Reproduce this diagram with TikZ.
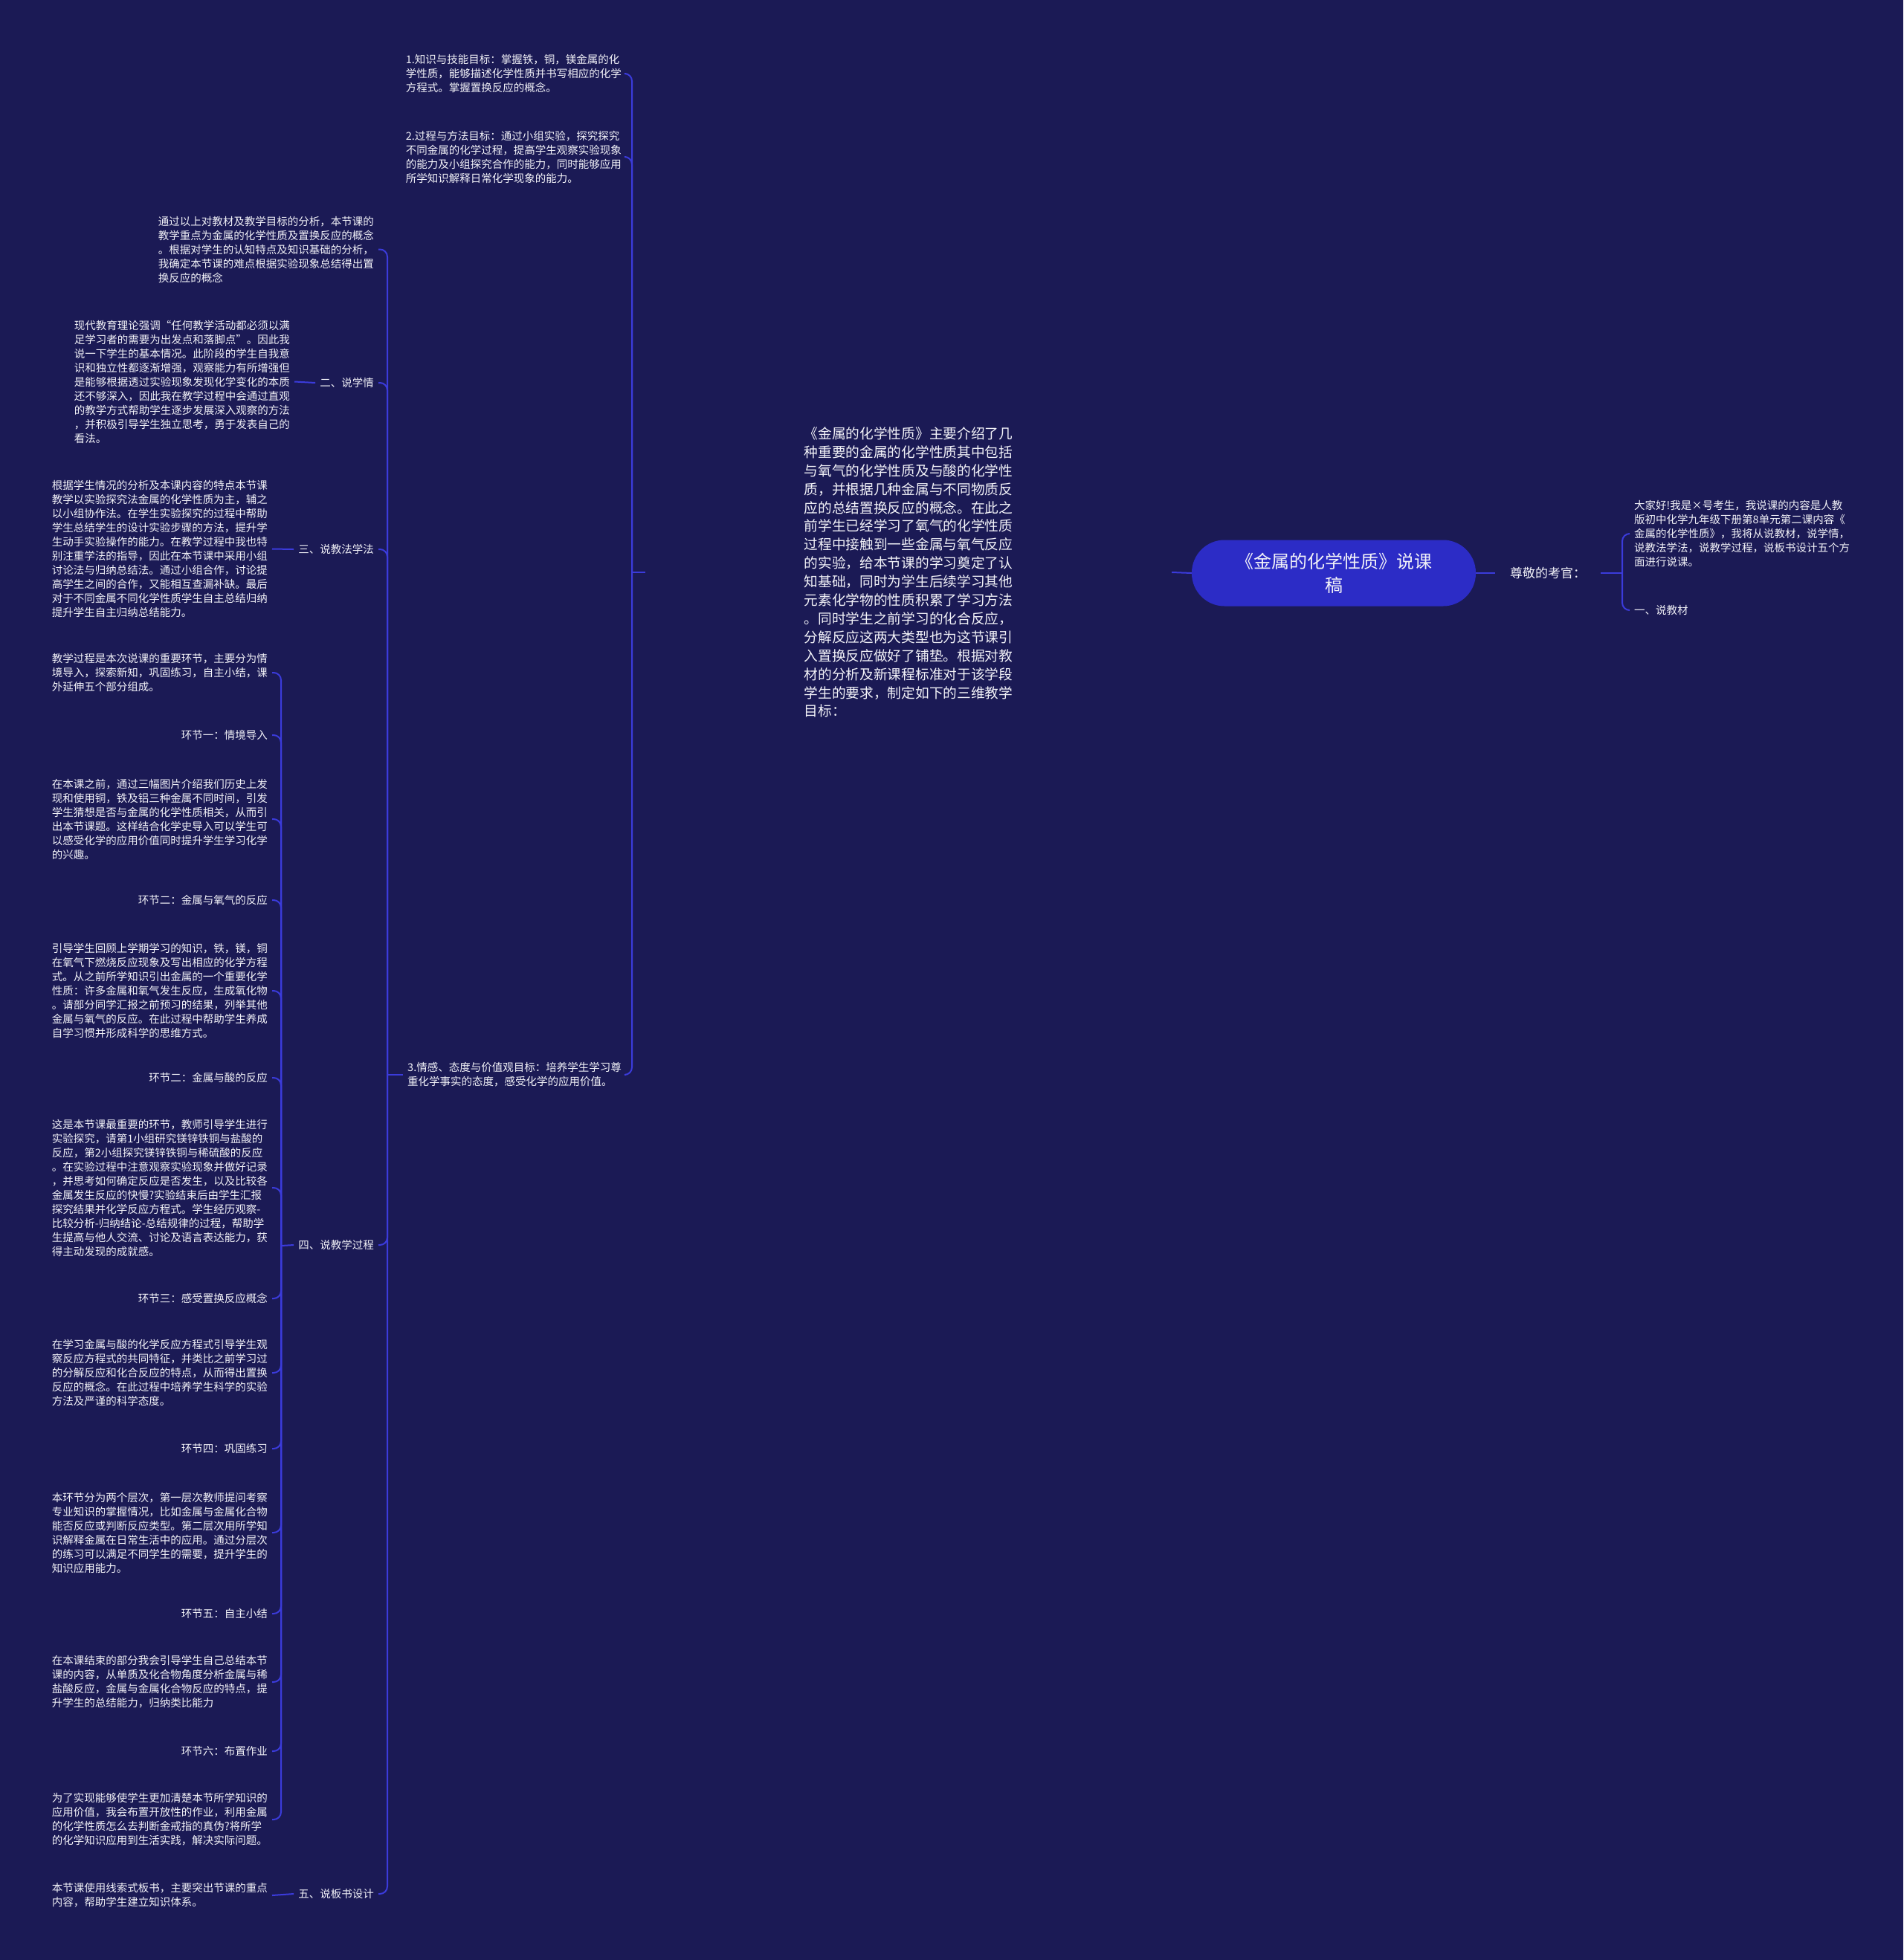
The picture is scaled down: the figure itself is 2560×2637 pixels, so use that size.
\documentclass[tikz,border=0pt]{standalone}
\usepackage{fontspec}
\setmainfont{Noto Sans CJK SC}
\usepackage{tikz}
\usetikzlibrary{positioning,calc}
\definecolor{bgnavy}{HTML}{1B1A55}
\definecolor{linkblue}{HTML}{3B3BDB}
\definecolor{rootblue}{HTML}{2C2CC6}
\definecolor{inkwhite}{HTML}{F2F2F8}

\begin{document}
\begin{tikzpicture}[
  x=1pt,y=-1pt,
  font=\fontsize{14.5}{19}\selectfont,
  every node/.style={text=inkwhite},
  root/.style={fill=rootblue,rounded corners=44pt,minimum width=382pt,minimum height=89pt,align=center,inner sep=0pt,font=\fontsize{24}{32}\selectfont},
  judge/.style={inner xsep=20pt,inner ysep=4pt,font=\fontsize{17}{22}\selectfont},
  intro/.style={align=left,minimum width=708pt,inner sep=0pt,font=\fontsize{18.7}{24.9}\selectfont},
  leaf/.style={align=left,inner xsep=6pt,inner ysep=2pt},
  link/.style={draw=linkblue,line width=2pt,rounded corners=10pt}
]
\fill[bgnavy] (0,0) rectangle (2560,2637);
\useasboundingbox (0,0) rectangle (2560,2637);

% centre and the greeting on the right
\node[root] (root) at (1794,771) {《金属的化学性质》说课\\稿};
\node[judge,anchor=west] (judges) at (2011,771) {尊敬的考官：};
\coordinate (jjudges) at (2182,771);
\node[leaf,anchor=west] (hello) at (2192,718) {大家好!我是×号考生，我说课的内容是人教\\版初中化学九年级下册第8单元第二课内容《\\金属的化学性质》，我将从说教材，说学情，\\说教法学法，说教学过程，说板书设计五个方\\面进行说课。};
\node[leaf,anchor=west] (part1) at (2192,821) {一、说教材};

\draw[link] (root.east) -- (judges.west);
\draw[link] (judges.east) -- (jjudges);
\foreach \c in {hello,part1}{
  \draw[link] (jjudges) |- (\c.west);
}

% the textbook analysis and the three goals
\node[intro] (intro) at (1222,770) {《金属的化学性质》主要介绍了几\\种重要的金属的化学性质其中包括\\与氧气的化学性质及与酸的化学性\\质，并根据几种金属与不同物质反\\应的总结置换反应的概念。在此之\\前学生已经学习了氧气的化学性质\\过程中接触到一些金属与氧气反应\\的实验，给本节课的学习奠定了认\\知基础，同时为学生后续学习其他\\元素化学物的性质积累了学习方法\\。同时学生之前学习的化合反应，\\分解反应这两大类型也为这节课引\\入置换反应做好了铺垫。根据对教\\材的分析及新课程标准对于该学段\\学生的要求，制定如下的三维教学\\目标：};
\coordinate (jintro) at (850,770);
\node[leaf,anchor=east] (goal1) at (842,99) {1.知识与技能目标：掌握铁，铜，镁金属的化\\学性质，能够描述化学性质并书写相应的化学\\方程式。掌握置换反应的概念。};
\node[leaf,anchor=east] (goal2) at (842,211) {2.过程与方法目标：通过小组实验，探究探究\\不同金属的化学过程，提高学生观察实验现象\\的能力及小组探究合作的能力，同时能够应用\\所学知识解释日常化学现象的能力。};
\node[leaf,anchor=east] (goal3) at (842,1446) {3.情感、态度与价值观目标：培养学生学习尊\\重化学事实的态度，感受化学的应用价值。};

\draw[link] (root.west) -- (intro.east);
\draw[link] (intro.west) -- (jintro);
\foreach \c in {goal1,goal2,goal3}{
  \draw[link] (jintro) |- (\c.east);
}

% the remaining parts of the talk
\coordinate (jgoal3) at (521,1446);
\node[leaf,anchor=east] (keypts) at (509,335.5) {通过以上对教材及教学目标的分析，本节课的\\教学重点为金属的化学性质及置换反应的概念\\。根据对学生的认知特点及知识基础的分析，\\我确定本节课的难点根据实验现象总结得出置\\换反应的概念};
\node[leaf,anchor=east] (part2) at (509,515) {二、说学情};
\node[leaf,anchor=east] (part3) at (509,739) {三、说教法学法};
\node[leaf,anchor=east] (part4) at (509,1675) {四、说教学过程};
\node[leaf,anchor=east] (part5) at (509,2548) {五、说板书设计};

\draw[link] (goal3.west) -- (jgoal3);
\foreach \c in {keypts,part2,part3,part4,part5}{
  \draw[link] (jgoal3) |- (\c.east);
}

\node[leaf,anchor=east] (learners) at (396,513.5) {现代教育理论强调“任何教学活动都必须以满\\足学习者的需要为出发点和落脚点”。因此我\\说一下学生的基本情况。此阶段的学生自我意\\识和独立性都逐渐增强，观察能力有所增强但\\是能够根据透过实验现象发现化学变化的本质\\还不够深入，因此我在教学过程中会通过直观\\的教学方式帮助学生逐步发展深入观察的方法\\，并积极引导学生独立思考，勇于发表自己的\\看法。};
\node[leaf,anchor=east] (methods) at (366,738.5) {根据学生情况的分析及本课内容的特点本节课\\教学以实验探究法金属的化学性质为主，辅之\\以小组协作法。在学生实验探究的过程中帮助\\学生总结学生的设计实验步骤的方法，提升学\\生动手实验操作的能力。在教学过程中我也特\\别注重学法的指导，因此在本节课中采用小组\\讨论法与归纳总结法。通过小组合作，讨论提\\高学生之间的合作，又能相互查漏补缺。最后\\对于不同金属不同化学性质学生自主总结归纳\\提升学生自主归纳总结能力。};
\node[leaf,anchor=east] (board) at (366,2550) {本节课使用线索式板书，主要突出节课的重点\\内容，帮助学生建立知识体系。};

\draw[link] (part2.west) -- (learners.east);
\draw[link] (part3.west) -- (methods.east);
\draw[link] (part5.west) -- (board.east);

% the teaching process, step by step
\coordinate (jpart4) at (378,1676);
\node[leaf,anchor=east] (overview) at (366,905) {教学过程是本次说课的重要环节，主要分为情\\境导入，探索新知，巩固练习，自主小结，课\\外延伸五个部分组成。};
\node[leaf,anchor=east] (stepone) at (366,989) {环节一：情境导入};
\node[leaf,anchor=east] (onetxt) at (366,1102) {在本课之前，通过三幅图片介绍我们历史上发\\现和使用铜，铁及铝三种金属不同时间，引发\\学生猜想是否与金属的化学性质相关，从而引\\出本节课题。这样结合化学史导入可以学生可\\以感受化学的应用价值同时提升学生学习化学\\的兴趣。};
\node[leaf,anchor=east] (steptwo) at (366,1211) {环节二：金属与氧气的反应};
\node[leaf,anchor=east] (twotxt) at (366,1333) {引导学生回顾上学期学习的知识，铁，镁，铜\\在氧气下燃烧反应现象及写出相应的化学方程\\式。从之前所学知识引出金属的一个重要化学\\性质：许多金属和氧气发生反应，生成氧化物\\。请部分同学汇报之前预习的结果，列举其他\\金属与氧气的反应。在此过程中帮助学生养成\\自学习惯并形成科学的思维方式。};
\node[leaf,anchor=east] (stepacid) at (366,1450) {环节二：金属与酸的反应};
\node[leaf,anchor=east] (acidtxt) at (366,1598) {这是本节课最重要的环节，教师引导学生进行\\实验探究，请第1小组研究镁锌铁铜与盐酸的\\反应，第2小组探究镁锌铁铜与稀硫酸的反应\\。在实验过程中注意观察实验现象并做好记录\\，并思考如何确定反应是否发生，以及比较各\\金属发生反应的快慢?实验结束后由学生汇报\\探究结果并化学反应方程式。学生经历观察-\\比较分析-归纳结论-总结规律的过程，帮助学\\生提高与他人交流、讨论及语言表达能力，获\\得主动发现的成就感。};
\node[leaf,anchor=east] (stepthree) at (366,1747) {环节三：感受置换反应概念};
\node[leaf,anchor=east] (threetxt) at (366,1847) {在学习金属与酸的化学反应方程式引导学生观\\察反应方程式的共同特征，并类比之前学习过\\的分解反应和化合反应的特点，从而得出置换\\反应的概念。在此过程中培养学生科学的实验\\方法及严谨的科学态度。};
\node[leaf,anchor=east] (stepfour) at (366,1949) {环节四：巩固练习};
\node[leaf,anchor=east] (fourtxt) at (366,2062) {本环节分为两个层次，第一层次教师提问考察\\专业知识的掌握情况，比如金属与金属化合物\\能否反应或判断反应类型。第二层次用所学知\\识解释金属在日常生活中的应用。通过分层次\\的练习可以满足不同学生的需要，提升学生的\\知识应用能力。};
\node[leaf,anchor=east] (stepfive) at (366,2171) {环节五：自主小结};
\node[leaf,anchor=east] (fivetxt) at (366,2263) {在本课结束的部分我会引导学生自己总结本节\\课的内容，从单质及化合物角度分析金属与稀\\盐酸反应，金属与金属化合物反应的特点，提\\升学生的总结能力，归纳类比能力};
\node[leaf,anchor=east] (stepsix) at (366,2356) {环节六：布置作业};
\node[leaf,anchor=east] (sixtxt) at (366,2448) {为了实现能够使学生更加清楚本节所学知识的\\应用价值，我会布置开放性的作业，利用金属\\的化学性质怎么去判断金戒指的真伪?将所学\\的化学知识应用到生活实践，解决实际问题。};

\draw[link] (part4.west) -- (jpart4);
\foreach \c in {overview,stepone,onetxt,steptwo,twotxt,stepacid,acidtxt,stepthree,threetxt,stepfour,fourtxt,stepfive,fivetxt,stepsix,sixtxt}{
  \draw[link] (jpart4) |- (\c.east);
}

\end{tikzpicture}
\end{document}
